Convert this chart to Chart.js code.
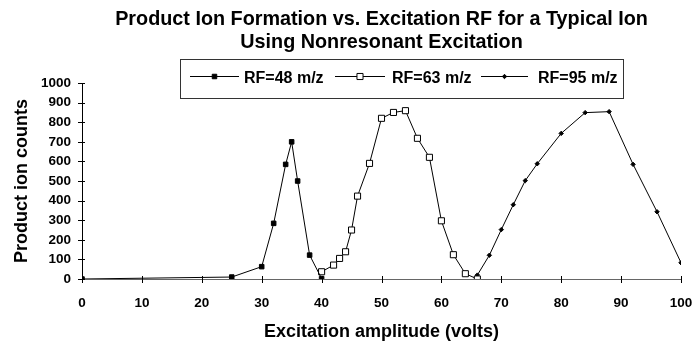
<!DOCTYPE html>
<html>
<head>
<meta charset="utf-8">
<title>Product Ion Formation vs. Excitation RF</title>
<script src="https://cdn.jsdelivr.net/npm/chart.js@4.4.1/dist/chart.umd.min.js"></script>
<style>
    html, body { margin: 0; padding: 0; background: #fff; }
    #wrap { width: 694px; height: 341px; }
</style>
</head>
<body>
<div id="wrap"><canvas id="ionChart" width="694" height="341"></canvas></div>
<script>
// Excitation amplitude (volts) and product ion counts for each RF setting
const rf48Volts = [0, 25, 30, 32, 34, 35, 36, 38, 40];
const rf48Counts = [0, 10, 63, 284, 585, 700, 500, 122, 2];

const rf63Volts = [40, 42, 43, 44, 45, 46, 48, 50, 52, 54, 56, 58, 60, 62, 64, 66];
const rf63Counts = [37, 71, 105, 139, 250, 423, 590, 820, 850, 859, 718, 621, 297, 124, 27, 0];

const rf95Volts = [66, 68, 70, 72, 74, 76, 80, 84, 88, 92, 96, 100];
const rf95Counts = [20, 121, 252, 379, 502, 588, 743, 849, 854, 585, 343, 83];

const seriesNames = ['RF=48 m/z', 'RF=63 m/z', 'RF=95 m/z'];

const xTicks = [0, 10, 20, 30, 40, 50, 60, 70, 80, 90, 100];
const yTicks = [0, 100, 200, 300, 400, 500, 600, 700, 800, 900, 1000];

const FONT = "'Liberation Sans', Arial, Helvetica, sans-serif";

function toPoints(xs, ys) {
    return xs.map((x, i) => ({ x: x, y: ys[i] }));
}

// Excel style tick marks that cross the axis line
const crossTicks = {
    id: 'crossTicks',
    afterDatasetsDraw(chart) {
        const ctx = chart.ctx;
        const xs = chart.scales.x;
        const ys = chart.scales.y;
        ctx.save();
        ctx.strokeStyle = '#000';
        ctx.lineWidth = 1;
        ctx.beginPath();
        xTicks.forEach(v => {
            const px = Math.round(xs.getPixelForValue(v)) + 0.5;
            ctx.moveTo(px, ys.bottom - 3);
            ctx.lineTo(px, ys.bottom + 4);
        });
        yTicks.forEach(v => {
            const py = Math.round(ys.getPixelForValue(v)) + 0.5;
            ctx.moveTo(xs.left - 4, py);
            ctx.lineTo(xs.left + 3, py);
        });
        ctx.stroke();
        ctx.restore();
    }
};

// Boxed legend floating over the top of the plot, like the original
const boxedLegend = {
    id: 'boxedLegend',
    afterDraw(chart) {
        const ctx = chart.ctx;
        const box = { left: 180.5, top: 59.5, right: 623.5, bottom: 98.5 };
        const items = [
            { lineFrom: 190, lineTo: 239, textX: 244 },
            { lineFrom: 335, lineTo: 385, textX: 392 },
            { lineFrom: 481, lineTo: 528, textX: 538 }
        ];
        const midY = 78;

        ctx.save();
        ctx.fillStyle = '#fff';
        ctx.fillRect(box.left, box.top, box.right - box.left, box.bottom - box.top);
        ctx.strokeStyle = '#333';
        ctx.lineWidth = 1;
        ctx.strokeRect(box.left, box.top, box.right - box.left, box.bottom - box.top);

        chart.data.datasets.forEach((ds, i) => {
            const it = items[i];
            ctx.strokeStyle = '#000';
            ctx.lineWidth = 1;
            ctx.beginPath();
            ctx.moveTo(it.lineFrom, midY - 1.5);
            ctx.lineTo(it.lineTo, midY - 1.5);
            ctx.stroke();

            ctx.fillStyle = ds.pointBackgroundColor;
            ctx.strokeStyle = ds.pointBorderColor;
            Chart.helpers.drawPoint(ctx, {
                pointStyle: ds.pointStyle,
                radius: ds.pointRadius,
                borderWidth: 1,
                rotation: 0
            }, (it.lineFrom + it.lineTo) / 2, midY - 1.5);

            ctx.fillStyle = '#000';
            ctx.font = 'bold 16px ' + FONT;
            ctx.textBaseline = 'middle';
            ctx.textAlign = 'left';
            ctx.fillText(ds.label, it.textX, midY + 1);
        });
        ctx.restore();
    }
};

const ctx = document.getElementById('ionChart').getContext('2d');

new Chart(ctx, {
    type: 'scatter',
    data: {
        datasets: [
            {
                label: seriesNames[0],
                data: toPoints(rf48Volts, rf48Counts),
                showLine: true,
                borderColor: '#000',
                borderWidth: 1,
                pointStyle: 'rect',
                pointRadius: 3.2,
                pointBackgroundColor: '#000',
                pointBorderColor: '#000',
                pointBorderWidth: 1
            },
            {
                label: seriesNames[1],
                data: toPoints(rf63Volts, rf63Counts),
                showLine: true,
                borderColor: '#000',
                borderWidth: 1,
                pointStyle: 'rect',
                pointRadius: 4.3,
                pointBackgroundColor: '#fff',
                pointBorderColor: '#000',
                pointBorderWidth: 1
            },
            {
                label: seriesNames[2],
                data: toPoints(rf95Volts, rf95Counts),
                showLine: true,
                borderColor: '#000',
                borderWidth: 1,
                pointStyle: 'rectRot',
                pointRadius: 2.2,
                pointBackgroundColor: '#000',
                pointBorderColor: '#000',
                pointBorderWidth: 1
            }
        ]
    },
    options: {
        responsive: false,
        animation: false,
        layout: {
            padding: 0
        },
        plugins: {
            legend: { display: false },
            tooltip: { enabled: false },
            title: {
                display: true,
                fullSize: false,
                text: [
                    'Product Ion Formation vs. Excitation RF for a Typical Ion',
                    'Using Nonresonant Excitation'
                ],
                color: '#000',
                font: { family: FONT, size: 19.8, weight: 'bold', lineHeight: 1.15 },
                padding: { top: 8, bottom: 29.5 }
            }
        },
        scales: {
            x: {
                type: 'linear',
                min: 0,
                max: 100,
                afterBuildTicks: axis => { axis.ticks = xTicks.map(v => ({ value: v })); },
                afterFit: scale => {
                    scale.height = 62;
                    // keep the last label inside the canvas without the extra tick padding
                    scale.paddingLeft = 0;
                    scale.paddingRight = 13;
                },
                grid: { display: false, drawTicks: false },
                border: { display: true, color: '#666', width: 1 },
                ticks: {
                    color: '#000',
                    padding: 16,
                    maxRotation: 0,
                    autoSkip: false,
                    callback: v => String(v),
                    font: { family: FONT, size: 13.5, weight: 'bold' }
                },
                title: {
                    display: true,
                    text: 'Excitation amplitude (volts)',
                    color: '#000',
                    font: { family: FONT, size: 18, weight: 'bold', lineHeight: 1.0 },
                    padding: { top: 0, bottom: 0 }
                }
            },
            y: {
                type: 'linear',
                min: 0,
                max: 1000,
                afterBuildTicks: axis => { axis.ticks = yTicks.map(v => ({ value: v })); },
                afterFit: scale => { scale.width = 82; },
                grid: { display: false, drawTicks: false },
                border: { display: true, color: '#000', width: 1 },
                ticks: {
                    color: '#000',
                    padding: 11,
                    autoSkip: false,
                    callback: v => String(v),
                    font: { family: FONT, size: 13.5, weight: 'bold' }
                },
                title: {
                    display: true,
                    text: 'Product ion counts',
                    color: '#000',
                    font: { family: FONT, size: 18, weight: 'bold' },
                    padding: { top: 11, bottom: 0 }
                }
            }
        }
    },
    plugins: [crossTicks, boxedLegend]
});
</script>
</body>
</html>
